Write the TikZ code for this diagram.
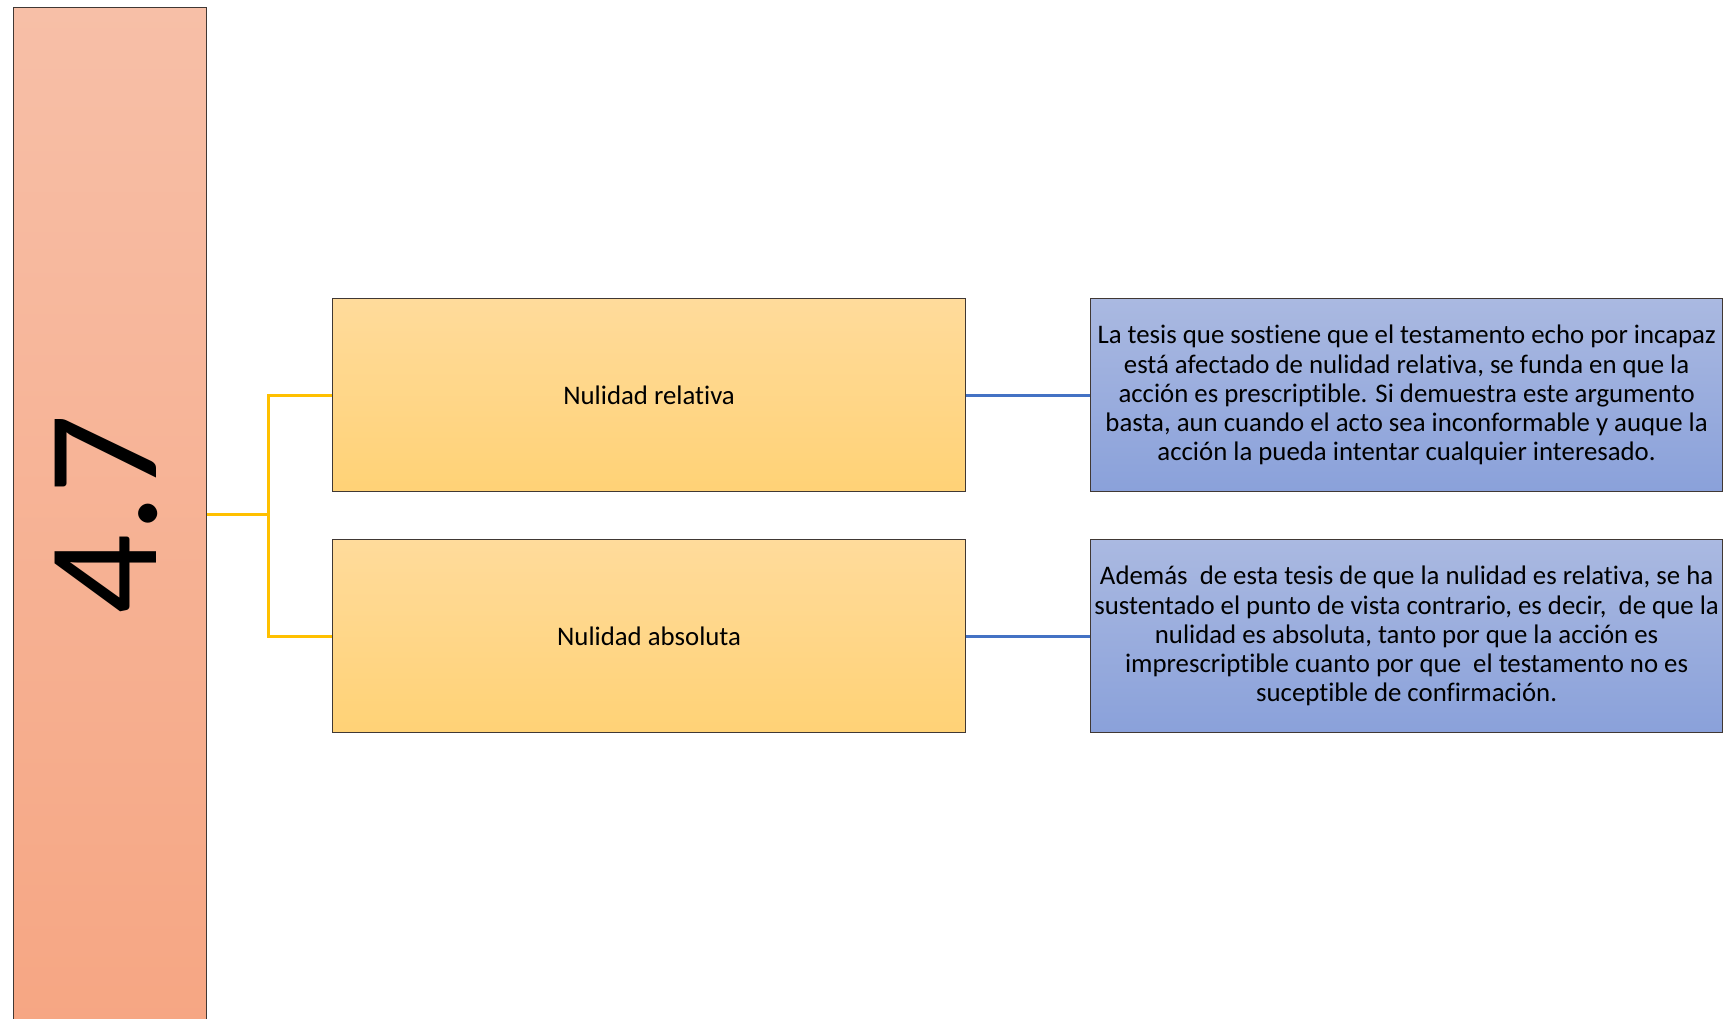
\documentclass[tikz,border=0pt]{standalone}
\usepackage{fontspec}
\setmainfont{Carlito}[Ligatures=NoCommon]
\definecolor{barTop}{RGB}{247,191,167}
\definecolor{barBot}{RGB}{246,166,131}
\definecolor{yelTop}{RGB}{255,219,155}
\definecolor{yelBot}{RGB}{255,210,118}
\definecolor{bluTop}{RGB}{170,185,225}
\definecolor{bluBot}{RGB}{138,161,218}
\definecolor{edgeGray}{RGB}{64,56,52}
\definecolor{yelLine}{RGB}{255,192,0}
\definecolor{bluLine}{RGB}{68,114,196}
\tikzset{
  boxbase/.style={draw=edgeGray, line width=1.2pt, anchor=north west, inner sep=0pt, align=center},
  barbox/.style={boxbase, top color=barTop, bottom color=barBot, minimum width=193pt, minimum height=1020pt},
  yelbox/.style={boxbase, top color=yelTop, bottom color=yelBot, minimum width=633pt, minimum height=193pt,
    font=\fontsize{26.8}{29.5}\selectfont},
  blubox/.style={boxbase, top color=bluTop, bottom color=bluBot, minimum width=632pt, minimum height=193pt,
    font=\fontsize{26.8}{29.2}\selectfont},
  yelconn/.style={draw=yelLine, line width=3pt},
  bluconn/.style={draw=bluLine, line width=3pt},
}
\begin{document}
\begin{tikzpicture}[x=1pt,y=-1pt]
\useasboundingbox (0,0) rectangle (1725,1018);
\node[barbox] (bar) at (13,7) {};
\node[rotate=90, font=\fontsize{158}{158}\selectfont, inner sep=0pt] (num) at (106,514) {4.7};
\node[yelbox] (y1) at (332,298) {Nulidad relativa};
\node[yelbox] (y2) at (332,539) {Nulidad absoluta};
\node[blubox] (b1) at (1090,298) {La tesis que sostiene que el testamento echo por incapaz\\está afectado de nulidad relativa, se funda en que la\\acción es prescriptible. Si demuestra este argumento\\basta, aun cuando el acto sea inconformable y auque la\\acción la pueda intentar cualquier interesado.};
\node[blubox] (b2) at (1090,539) {Además\ \ de esta tesis de que la nulidad es relativa, se ha\\sustentado el punto de vista contrario, es decir,\ \ de que la\\nulidad es absoluta, tanto por que la acción es\\imprescriptible cuanto por que\ \ el testamento no es\\suceptible de confirmación.};
\coordinate (j) at (268,514);
\draw[yelconn] (bar.east |- j) -- (j);
\draw[yelconn] (j) |- (y1.west);
\draw[yelconn] (j) |- (y2.west);
\draw[bluconn] (y1.east) -- (b1.west);
\draw[bluconn] (y2.east) -- (b2.west);
\end{tikzpicture}
\end{document}
